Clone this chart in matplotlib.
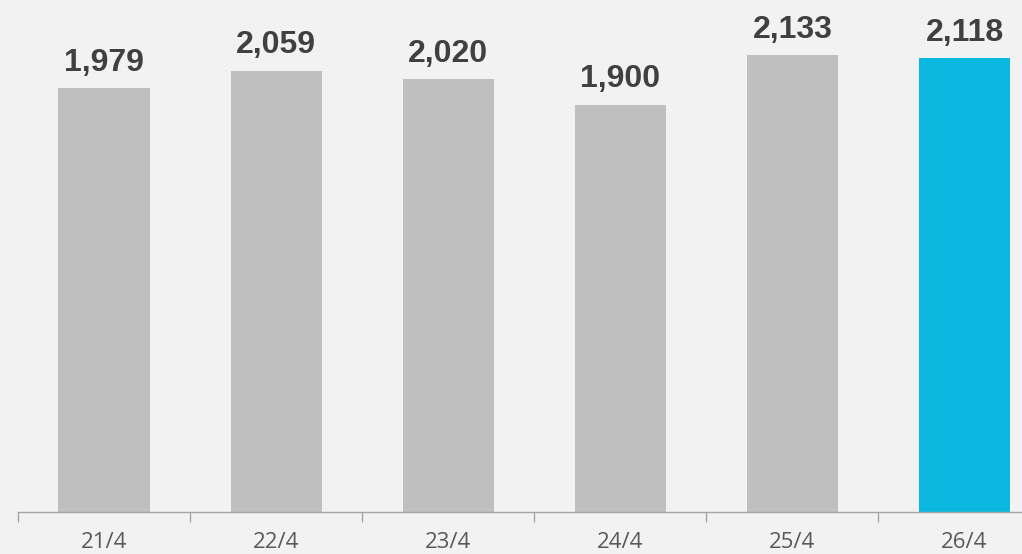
import matplotlib.pyplot as plt
import numpy as np

plt.close('all')

days = ['21/4', '22/4', '23/4', '24/4', '25/4', '26/4']
counts = [1979, 2059, 2020, 1900, 2133, 2118]
bar_colors = ['#bfbfbf'] * 5 + ['#0bb8e0']

fig = plt.figure(figsize=(10.22, 5.54), dpi=100, facecolor='#f2f2f2')
# axes run a little past the right edge, so the last slot is cut off
ax = fig.add_axes([18 / 1022, 42 / 554, 1032.6 / 1022, 512 / 554])
ax.set_facecolor('#f2f2f2')

x = np.arange(len(days))
bars = ax.bar(x, counts, width=0.53, color=bar_colors)

for b, v in zip(bars, counts):
    ax.annotate(f'{v:,}', (b.get_x() + b.get_width() / 2, v),
                xytext=(0, 12.5), textcoords='offset points',
                ha='center', va='baseline', fontsize=23, fontweight='bold',
                color='#404040', family='Liberation Sans')

ax.set_xlim(-0.5, len(days) - 0.5)
ax.set_ylim(0, 2389)

ax.set_xticks(x)
ax.set_xticklabels(days, fontsize=16, color='#595959', family='Open Sans')
ax.set_xticks(np.arange(-0.5, len(days)), minor=True)
ax.tick_params(axis='x', which='major', length=0, pad=14.5)
ax.tick_params(axis='x', which='minor', length=7, color='#a6a6a6', width=1)

ax.set_yticks([])
for side in ['top', 'right', 'left']:
    ax.spines[side].set_visible(False)
ax.spines['bottom'].set_color('#a6a6a6')
ax.spines['bottom'].set_linewidth(1)

plt.savefig('out.png', dpi=100, facecolor=fig.get_facecolor())
